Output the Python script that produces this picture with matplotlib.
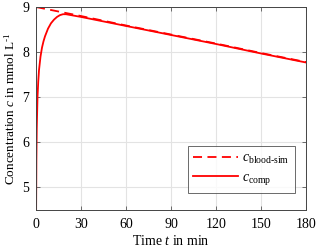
import matplotlib
matplotlib.use("Agg")
import matplotlib.pyplot as plt

plt.rcParams['font.family'] = ['Liberation Serif', 'DejaVu Serif']
plt.rcParams['mathtext.fontset'] = 'custom'
plt.rcParams['mathtext.rm'] = 'Liberation Serif'
plt.rcParams['mathtext.it'] = 'Liberation Serif:italic'

# dashed: simulated blood concentration
t_blood = [0, 30, 60, 90, 120, 150, 180]
c_blood = [9.00, 8.80, 8.59, 8.39, 8.19, 7.98, 7.78]

# solid: compartment concentration
t_comp = [0, 0.25, 0.5, 1, 1.5, 2, 3, 4, 5, 6, 8, 10, 12, 14, 16, 18, 20, 25, 30,
          60, 90, 120, 150, 180]
c_comp = [4.0, 5.6, 6.3, 7.0, 7.35, 7.6, 7.9, 8.1, 8.24, 8.35, 8.52, 8.64, 8.72, 8.78,
          8.82, 8.84, 8.84, 8.81, 8.78, 8.58, 8.38, 8.18, 7.97, 7.77]

xticks = [0, 30, 60, 90, 120, 150, 180]
yticks = [5, 6, 7, 8, 9]

fig = plt.figure(figsize=(3.2, 2.5), dpi=100)
ax = fig.add_axes([36/320, 1-210/250, 270/320, 203/250])

ax.plot(t_blood, c_blood, color='red', ls=(0, (5, 3)), lw=1.3,
        label=r'$c_{\mathrm{blood}\text{-}\mathrm{sim}}$')
ax.plot(t_comp, c_comp, color='red', ls='-', lw=1.3, label=r'$c_{\mathrm{comp}}$')

ax.set_xlim(0, 180)
ax.set_ylim(4.5, 9)
ax.set_xticks(xticks)
ax.set_yticks(yticks)
ax.grid(True, color='#e3e3e3', lw=0.8)
ax.set_axisbelow(True)
ax.tick_params(direction='in', top=True, right=True, labelsize=10, length=3,
               color='#555555', width=0.6)
ax.tick_params(axis='x', pad=6)
ax.tick_params(axis='y', pad=5)
for s in ax.spines.values():
    s.set_color('#444444')
    s.set_linewidth(0.7)

ax.set_xlabel(r'Time $t$ in min', fontsize=10, labelpad=2)
ax.set_ylabel(r'Concentration $c$ in mmol L$^{\text{-}1}$', fontsize=9.5, labelpad=3)

leg = ax.legend(loc='lower right', bbox_to_anchor=(0.959, 0.084), fontsize=10,
                frameon=True, fancybox=False, edgecolor='#444444', borderaxespad=0,
                handlelength=3.2, borderpad=0.4, labelspacing=0.4, handletextpad=0.3)
leg.get_frame().set_linewidth(0.7)

fig.savefig('out.png', dpi=100)
